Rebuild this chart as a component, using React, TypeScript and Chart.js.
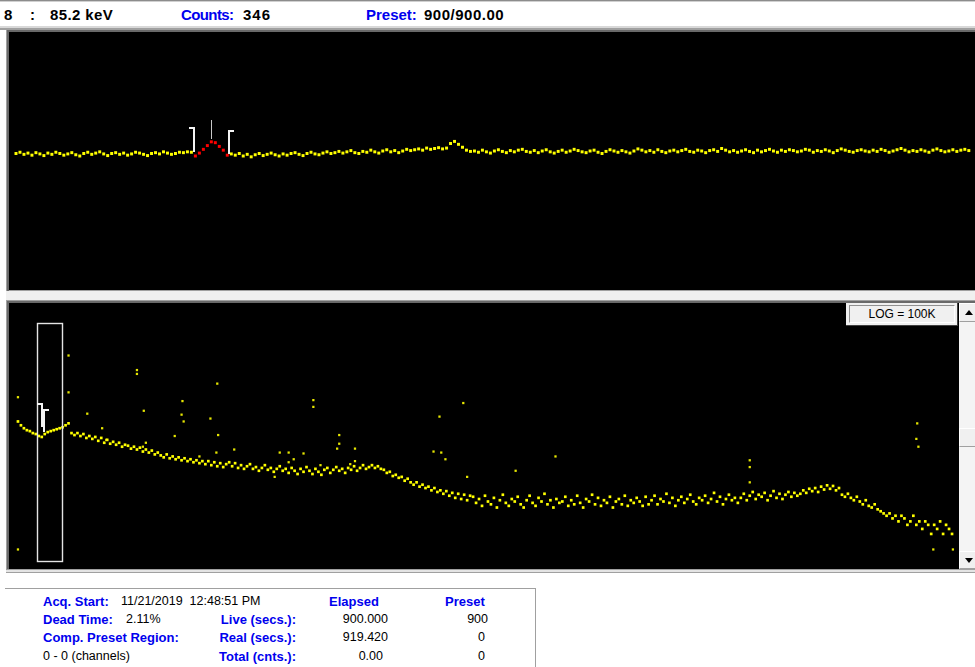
import React, { useEffect, useRef } from "react";
import { Chart, registerables } from "chart.js";

Chart.register(...registerables);

// ===== Status line =====
const markerChannelLabel = "8";
const markerEnergyLabel = "85.2 keV";
const markerCountsLabel = "346";
const presetLabel = "900/900.00";
const logScaleLabel = "LOG = 100K";

// ===== Expanded spectrum (upper window), counts per channel =====
const upperCounts = [
  318, 321, 316, 319, 314, 320, 317, 313, 319, 316, 321, 318, 314, 317, 320, 315, 312, 318, 321, 316,
  319, 322, 317, 313, 318, 320, 316, 319, 314, 317, 321, 319, 316, 313, 318, 320, 317, 322, 319, 316,
  318, 321, 320, 322, 321,
  312, 319, 328, 337, 346, 344, 335, 326, 314,
  317, 314, 318, 312, 316, 310, 315, 318, 313, 316, 319, 315, 312, 317, 314, 318, 320, 316, 313, 318,
  321, 317, 315, 319, 322, 318, 320,
  323, 319, 322, 325, 320, 318, 323, 321, 326, 322, 319, 324, 327, 322, 325, 320, 324, 328, 325, 327,
  329, 326, 331, 328, 330, 332, 329, 331,
  342, 347, 340, 333, 326, 323,
  324, 321, 326, 322, 319, 324, 327, 323, 320, 325, 322, 326, 328, 323, 321, 325, 320, 324, 327, 322,
  319, 323, 326, 321, 324, 328, 325, 322, 320, 324, 326, 321, 318, 323, 327, 324, 321, 325, 322, 319,
  324, 329, 326, 322, 325, 321, 327, 323, 320, 324, 326, 322, 325, 328, 323, 321, 326, 324, 320, 325,
  327, 323, 330, 326, 322, 325, 321, 324, 327, 323, 320, 326, 322, 325, 328, 324, 321, 326, 323, 327,
  325, 322, 324, 328, 326, 321, 325, 323, 327, 324, 320, 325, 329, 326, 323, 321, 325, 327, 324, 322,
  326, 323, 328, 325, 321, 324, 327, 330, 326, 322, 325, 323, 327, 324, 321,
  326, 329, 325, 322, 324, 327, 323, 326, 328, 325,
];
const upperRoi = [45, 53];
const upperMarker = 49;

// ===== Full spectrum (lower window, log display) =====
const lowerCounts = [
  605, 510, 447, 410, 393, 360, 345, 316, 303, 345, 376, 393, 410, 428, 447,
  467, 510, 556, 360, 330, 360, 316, 345,
  290, 316, 278, 303, 255, 290, 234, 266, 224, 244, 214, 234, 196, 214, 205, 180, 196, 173, 188, 158,
  173, 151, 165, 139, 151, 133, 122, 139, 117, 127, 112, 122, 107, 117, 103, 112, 98, 107, 94, 103,
  90, 103, 86, 98, 82, 94, 79, 90, 98, 82, 94, 76, 86, 73, 82, 90, 73, 79, 67, 76,
  86, 70, 76, 64, 73, 82, 67, 73, 61, 76, 67, 58, 73, 64, 79, 67, 58, 73, 64, 56,
  70, 76, 61, 70, 79, 67, 73, 61, 76, 70, 82, 67, 76, 86, 73, 79, 86, 76, 82, 73,
  70, 61, 64, 53, 56, 49, 51, 43, 47, 40, 36, 40, 33, 36, 31, 33, 28, 31, 26, 28,
  24, 27, 22, 25, 20, 24, 19, 23, 18, 22,
  21, 16, 19, 14, 22, 17, 15, 20, 13, 18, 23, 16, 14, 19, 17, 21, 15, 13, 18, 22,
  16, 14, 20, 17, 24, 15, 18, 13, 19, 16,
  17, 21, 14, 18, 15, 22, 16, 13, 19, 17, 23, 15, 20, 14, 18, 16, 21, 13, 17, 19,
  15, 22, 14, 18, 16, 20, 17, 14, 21, 15,
  18, 22, 15, 19, 17, 24, 16, 20, 14, 18, 21, 16, 19, 23, 17, 15, 20, 18, 22, 16,
  19, 25, 17, 21, 15, 19, 23, 18, 20, 16,
  20, 24, 18, 22, 26, 19, 23, 21, 25, 18, 22, 27, 20, 24, 19, 23, 26, 21, 25, 22,
  24, 28, 25, 30, 27, 31, 26, 33, 29, 35, 30, 34, 28, 31,
  23, 21, 24, 20, 18, 21, 17, 15, 18, 14, 13, 15, 12, 11, 10,
  9, 10, 8, 9, 7, 9, 8, 6, 7, 9, 6, 7, 5, 7, 6, 4, 6, 5, 7, 4, 6, 5, 4,
];
const lowerOutlierChannels = [
  0, 17, 17, 40, 40, 23.3, 42.3, 67, 55.3, 55, 55.7, 64.7, 67.3, 52.7, 28.3, 43, 29.7, 42, 61, 66.7,
  72.7, 0, 99.3, 99.3, 149.7, 141.7, 139.7, 142.3, 143.7, 108, 108, 107.3, 113.3, 113.3, 111.7, 88,
  91, 92.7, 96, 101.7, 91, 86.3, 151, 167.3, 180.7, 246, 246, 246, 302.3, 302, 302.7, 307.7, 314.3,
];
const lowerOutlierCounts = [
  1786, 11480, 2218, 5998, 5047, 856, 975, 3273, 1502, 820, 605, 689, 330, 316, 447, 234, 266, 196, 127, 151,
  173, 2, 1568, 1159, 1377, 751, 158, 151, 112, 330, 224, 180, 180, 103, 90, 151,
  151, 112, 145, 86, 98, 51, 51, 67, 127, 107, 79, 40, 555, 278, 196, 2, 2,
];
const lowerExpandWindow = [6.3, 14.7];
const lowerRoi = [8.0, 8.7];
const lowerMarkerValue = 346;

// ===== Acquisition info =====
const acqStart = "11/21/2019  12:48:51 PM";
const deadTime = "2.11%";
const presetRegion = "0 - 0 (channels)";
const elapsedValues = ["900.000", "919.420", "0.00"];
const presetValues = ["900", "0", "0"];

const BLUE = "#0000ee";
const FONT = "'Liberation Sans', Arial, sans-serif";

const upperOverlay = {
  id: "upperOverlay",
  afterDatasetsDraw(chart: any) {
    const { ctx } = chart;
    const xs = chart.scales.x;
    const ys = chart.scales.y;
    ctx.save();
    ctx.strokeStyle = "#f4f4f4";
    ctx.lineWidth = 2;
    const lx = Math.round(xs.getPixelForValue(upperRoi[0] - 0.3));
    const lb = Math.round(ys.getPixelForValue(upperCounts[upperRoi[0] - 1]));
    ctx.beginPath();
    ctx.moveTo(lx - 5, lb - 24);
    ctx.lineTo(lx, lb - 24);
    ctx.lineTo(lx, lb);
    ctx.stroke();
    const rx = Math.round(xs.getPixelForValue(upperRoi[1] + 0.5));
    const rb = Math.round(ys.getPixelForValue(upperCounts[upperRoi[1] + 1]));
    ctx.beginPath();
    ctx.moveTo(rx + 5, rb - 23);
    ctx.lineTo(rx, rb - 23);
    ctx.lineTo(rx, rb);
    ctx.stroke();
    const mx = Math.round(xs.getPixelForValue(upperMarker)) + 0.5;
    const my = ys.getPixelForValue(upperCounts[upperMarker]);
    ctx.strokeStyle = "#c8c8c8";
    ctx.lineWidth = 1;
    ctx.beginPath();
    ctx.moveTo(mx, Math.round(my - 22));
    ctx.lineTo(mx, Math.round(my - 3));
    ctx.stroke();
    ctx.restore();
  },
};

const lowerOverlay = {
  id: "lowerOverlay",
  afterDatasetsDraw(chart: any) {
    const { ctx, chartArea } = chart;
    const xs = chart.scales.x;
    const ys = chart.scales.y;
    ctx.save();
    const x0 = Math.round(xs.getPixelForValue(lowerExpandWindow[0])) + 0.5;
    const x1 = Math.round(xs.getPixelForValue(lowerExpandWindow[1])) + 0.5;
    const y0 = chartArea.top + 16.5;
    const y1 = chartArea.bottom - 3.5;
    ctx.strokeStyle = "#e4e4e4";
    ctx.lineWidth = 1.4;
    ctx.strokeRect(x0, y0, x1 - x0, y1 - y0);
    const my = Math.round(ys.getPixelForValue(lowerMarkerValue));
    ctx.strokeStyle = "#f4f4f4";
    ctx.lineWidth = 2;
    const lx = Math.round(xs.getPixelForValue(lowerRoi[0]));
    ctx.beginPath();
    ctx.moveTo(lx - 5, my - 30);
    ctx.lineTo(lx, my - 30);
    ctx.lineTo(lx, my - 7);
    ctx.stroke();
    const rx = Math.round(xs.getPixelForValue(lowerRoi[1]));
    ctx.beginPath();
    ctx.moveTo(rx + 5, my - 24);
    ctx.lineTo(rx, my - 24);
    ctx.lineTo(rx, my - 2);
    ctx.stroke();
    ctx.restore();
  },
};

function Txt(props: {
  x: number; y: number; text: string; size?: number; bold?: boolean;
  color?: string; align?: "left" | "right"; ls?: number;
}) {
  const { x, y, text, size = 13, bold = false, color = "#000", align = "left", ls = 0 } = props;
  const style: any = {
    position: "absolute", top: y, fontSize: size, lineHeight: `${size}px`,
    fontWeight: bold ? 700 : 400, color, whiteSpace: "pre", letterSpacing: ls, fontFamily: FONT,
  };
  if (align === "right") {
    style.left = x - 200; style.width = 200; style.textAlign = "right";
  } else {
    style.left = x;
  }
  return <div style={style}>{text}</div>;
}

function Box(props: { x: number; y: number; w: number; h: number; bg: string; extra?: any }) {
  return (
    <div
      style={{
        position: "absolute", left: props.x, top: props.y, width: props.w, height: props.h,
        background: props.bg, boxSizing: "border-box", ...(props.extra || {}),
      }}
    />
  );
}

export default function App() {
  const upperRef = useRef<HTMLCanvasElement>(null);
  const lowerRef = useRef<HTMLCanvasElement>(null);

  useEffect(() => {
    const common: any = {
      responsive: false,
      maintainAspectRatio: false,
      animation: false,
      events: [],
      layout: { padding: 0 },
      plugins: { legend: { display: false }, tooltip: { enabled: false } },
      elements: { point: { pointStyle: "rect", radius: 1.5, borderWidth: 0 } },
    };

    const upper = new Chart(upperRef.current as HTMLCanvasElement, {
      type: "scatter",
      data: {
        datasets: [
          {
            data: upperCounts.map((v, i) => ({ x: i, y: v })),
            showLine: false,
            pointBackgroundColor: upperCounts.map((_, i) =>
              i >= upperRoi[0] && i <= upperRoi[1] ? "#ff0000" : "#ffff00"
            ),
            pointBorderWidth: 0,
            pointRadius: 2.1,
          } as any,
        ],
      },
      options: {
        ...common,
        scales: {
          x: { type: "linear", min: -0.75, max: 239.55, display: false },
          y: { type: "linear", min: 0, max: 600, display: false },
        },
      },
      plugins: [upperOverlay],
    });

    const lower = new Chart(lowerRef.current as HTMLCanvasElement, {
      type: "scatter",
      data: {
        datasets: [
          {
            data: lowerCounts.map((v, i) => ({ x: i, y: v })),
            showLine: false,
            pointBackgroundColor: "#ffff00",
            pointBorderWidth: 0,
            pointRadius: 1.9,
          } as any,
          {
            data: lowerOutlierChannels.map((c, i) => ({ x: c, y: lowerOutlierCounts[i] })),
            showLine: false,
            pointBackgroundColor: "#e6e600",
            pointBorderWidth: 0,
            pointRadius: 1.6,
          } as any,
        ],
      },
      options: {
        ...common,
        scales: {
          x: { type: "linear", min: -1.667, max: 315, display: false },
          y: { type: "logarithmic", min: 1, max: 100000, display: false },
        },
      },
      plugins: [lowerOverlay],
    });

    return () => {
      upper.destroy();
      lower.destroy();
    };
  }, []);

  const rowTop = [595, 613, 631, 650];

  return (
    <div
      style={{
        position: "absolute", left: 0, top: 0, width: 975, height: 667,
        background: "#ffffff", overflow: "hidden", fontFamily: FONT,
      }}
    >
      <Box x={0} y={0} w={975} h={1} bg="#8c8c8c" />
      <Box x={0} y={1} w={975} h={1} bg="#d0d0d0" />
      <Txt x={4} y={7} text={markerChannelLabel} size={15} bold ls={0.4} />
      <Txt x={30} y={7} text=":" size={15} bold />
      <Txt x={50} y={7} text={markerEnergyLabel} size={15} bold ls={0.4} />
      <Txt x={181} y={7} text="Counts:" size={15} bold color={BLUE} ls={-0.6} />
      <Txt x={243} y={7} text={markerCountsLabel} size={15} bold ls={1} />
      <Txt x={366} y={7} text="Preset:" size={15} bold color={BLUE} />
      <Txt x={424} y={7} text={presetLabel} size={15} bold ls={0.5} />

      <Box x={0} y={26} w={975} h={2} bg="#d8d8d8" />
      <Box x={0} y={28} w={975} h={2} bg="#a0a0a0" />
      <Box x={6} y={30} w={969} h={2} bg="#696969" />
      <Box x={6} y={28} w={1} h={545} bg="#a0a0a0" />
      <Box x={7} y={30} w={2} h={541} bg="#696969" />

      <canvas
        ref={upperRef}
        width={966}
        height={258}
        style={{ position: "absolute", left: 9, top: 32, width: 966, height: 258, background: "#000" }}
      />

      <Box x={9} y={290} w={966} h={1} bg="#a0a0a0" />
      <Box x={6} y={291} w={969} h={9} bg="#f0f0f0" />
      <Box x={6} y={300} w={969} h={1} bg="#a0a0a0" />
      <Box x={7} y={301} w={968} h={2} bg="#696969" />

      <canvas
        ref={lowerRef}
        width={950}
        height={266}
        style={{ position: "absolute", left: 9, top: 303, width: 950, height: 266, background: "#000" }}
      />

      <Box x={846} y={303} w={112} h={23} bg="#f0f0f0"
        extra={{ borderRight: "1px solid #404040", borderBottom: "1px solid #404040" }} />
      <Box x={849} y={305} w={106} h={18} bg="#f0f0f0"
        extra={{ borderTop: "1px solid #909090", borderLeft: "1px solid #909090", borderRight: "1px solid #ffffff", borderBottom: "1px solid #ffffff" }} />
      <div
        style={{
          position: "absolute", left: 849, top: 308, width: 106, textAlign: "center",
          fontSize: 12, lineHeight: "12px", color: "#000", fontFamily: FONT,
        }}
      >
        {logScaleLabel}
      </div>

      <Box x={959} y={303} w={16} h={266} bg="#f4f4f4" />
      <Box x={959} y={303} w={16} h={19} bg="#f0f0f0"
        extra={{ borderTop: "1px solid #ffffff", borderLeft: "1px solid #ffffff", borderBottom: "1px solid #a0a0a0" }} />
      <div style={{ position: "absolute", left: 965, top: 310, width: 0, height: 0,
        borderLeft: "4px solid transparent", borderRight: "4px solid transparent", borderBottom: "5px solid #000" }} />
      <Box x={959} y={428} w={16} h={19} bg="#f0f0f0"
        extra={{ borderTop: "1px solid #ffffff", borderLeft: "1px solid #ffffff", borderBottom: "1px solid #a0a0a0" }} />
      <Box x={959} y={551} w={16} h={18} bg="#f0f0f0"
        extra={{ borderTop: "1px solid #ffffff", borderLeft: "1px solid #ffffff", borderBottom: "1px solid #a0a0a0" }} />
      <div style={{ position: "absolute", left: 965, top: 558, width: 0, height: 0,
        borderLeft: "4px solid transparent", borderRight: "4px solid transparent", borderTop: "5px solid #000" }} />

      <Box x={6} y={569} w={969} h={1} bg="#a0a0a0" />
      <Box x={6} y={570} w={969} h={2} bg="#e4e4e4" />
      <Box x={6} y={572} w={969} h={1} bg="#a0a0a0" />

      <Box x={5} y={588} w={531} h={1} bg="#a0a0a0" />
      <Box x={535} y={588} w={1} h={79} bg="#a0a0a0" />

      <Txt x={43} y={rowTop[0]} text="Acq. Start:" bold color={BLUE} />
      <Txt x={121} y={rowTop[0]} text={acqStart} size={12.5} />
      <Txt x={329} y={rowTop[0]} text="Elapsed" bold color={BLUE} />
      <Txt x={445} y={rowTop[0]} text="Preset" bold color={BLUE} />

      <Txt x={43} y={rowTop[1]} text="Dead Time:" bold color={BLUE} />
      <Txt x={126} y={rowTop[1]} text={deadTime} size={12.5} />
      <Txt x={296} y={rowTop[1]} text="Live (secs.):" bold color={BLUE} align="right" />
      <Txt x={388} y={rowTop[1]} text={elapsedValues[0]} size={12.5} align="right" />
      <Txt x={488} y={rowTop[1]} text={presetValues[0]} size={12.5} align="right" />

      <Txt x={43} y={rowTop[2]} text="Comp. Preset Region:" bold color={BLUE} />
      <Txt x={296} y={rowTop[2]} text="Real (secs.):" bold color={BLUE} align="right" />
      <Txt x={388} y={rowTop[2]} text={elapsedValues[1]} size={12.5} align="right" />
      <Txt x={485} y={rowTop[2]} text={presetValues[1]} size={12.5} align="right" />

      <Txt x={43} y={rowTop[3]} text={presetRegion} size={12.5} />
      <Txt x={296} y={rowTop[3]} text="Total (cnts.):" bold color={BLUE} align="right" />
      <Txt x={383} y={rowTop[3]} text={elapsedValues[2]} size={12.5} align="right" />
      <Txt x={485} y={rowTop[3]} text={presetValues[2]} size={12.5} align="right" />
    </div>
  );
}
